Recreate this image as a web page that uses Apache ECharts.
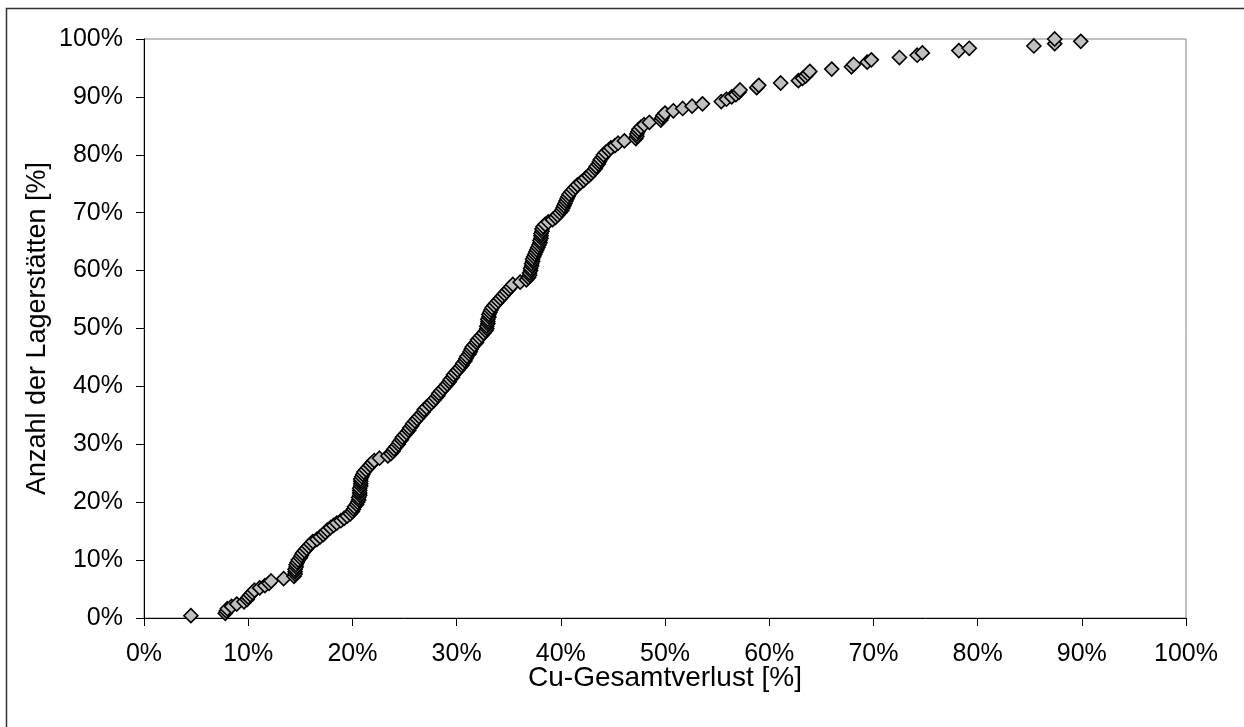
<!DOCTYPE html>
<html>
<head>
<meta charset="utf-8">
<script src="https://cdn.jsdelivr.net/npm/echarts@6/dist/echarts.min.js"></script>
<style>
html,body{margin:0;padding:0;background:#fff;}
#chart{width:1244px;height:727px;}
</style>
</head>
<body>
<div id="chart"></div>
<script>
// Cu-Gesamtverlust [%] per deposit (sorted)
var cuLoss = [
4.5,7.8,7.9,8.0,8.4,8.9,9.6,9.9,10.0,10.2,
10.4,10.6,11.1,11.6,12.0,12.2,13.4,14.4,14.5,14.5,
14.5,14.6,14.6,14.7,14.8,15.0,15.1,15.2,15.4,15.6,
15.8,16.0,16.2,16.6,16.9,17.2,17.4,17.6,17.9,18.2,
18.5,18.9,19.2,19.5,19.8,20.0,20.1,20.2,20.4,20.5,
20.6,20.6,20.7,20.7,20.7,20.7,20.8,20.8,20.8,20.8,
20.9,21.0,21.1,21.3,21.5,21.7,21.9,22.1,22.6,23.4,
23.7,23.9,24.0,24.2,24.4,24.5,24.7,24.8,25.0,25.2,
25.4,25.5,25.7,25.8,26.0,26.2,26.4,26.6,26.8,26.9,
27.1,27.4,27.6,27.8,28.0,28.2,28.3,28.5,28.7,28.9,
29.1,29.3,29.4,29.6,29.7,29.9,30.1,30.3,30.5,30.6,
30.8,30.9,31.0,31.2,31.3,31.4,31.5,31.7,31.9,32.0,
32.2,32.4,32.6,32.8,32.9,32.9,33.0,33.0,33.0,33.1,
33.1,33.2,33.3,33.4,33.6,33.8,34.0,34.2,34.4,34.6,
34.8,35.0,35.2,35.4,36.1,36.7,36.9,37.0,37.0,37.1,
37.1,37.2,37.2,37.3,37.3,37.4,37.5,37.6,37.7,37.8,
37.9,38.0,38.0,38.1,38.1,38.1,38.2,38.2,38.3,38.5,
38.8,39.2,39.5,39.7,39.9,40.1,40.2,40.3,40.4,40.5,
40.6,40.7,40.8,41.0,41.2,41.4,41.6,41.9,42.2,42.4,
42.7,42.9,43.1,43.3,43.4,43.6,43.7,43.8,44.0,44.1,
44.3,44.6,44.8,45.2,45.5,46.1,47.2,47.3,47.3,47.4,
47.5,47.7,48.0,48.5,49.6,49.7,49.8,50.0,50.8,51.7,
52.6,53.6,55.4,55.9,56.4,56.8,57.1,57.2,58.8,59.0,
61.1,62.8,63.2,63.5,63.7,63.9,66.0,67.9,68.1,69.4,
69.8,72.5,74.2,74.7,78.2,79.2,85.4,87.4,89.9,87.4
];
// Anzahl der Lagerstätten [%] (cumulative share)
var cumShare = [
0.4,0.8,1.2,1.6,2.0,2.4,2.8,3.2,3.6,4.0,
4.4,4.8,5.2,5.6,6.0,6.4,6.8,7.2,7.6,8.0,
8.4,8.8,9.2,9.6,10.0,10.4,10.8,11.2,11.6,12.0,
12.4,12.8,13.2,13.6,14.0,14.4,14.8,15.2,15.6,16.0,
16.4,16.8,17.2,17.6,18.0,18.4,18.8,19.2,19.6,20.0,
20.4,20.8,21.2,21.6,22.0,22.4,22.8,23.2,23.6,24.0,
24.4,24.8,25.2,25.6,26.0,26.4,26.8,27.2,27.6,28.0,
28.4,28.8,29.2,29.6,30.0,30.4,30.8,31.2,31.6,32.0,
32.4,32.8,33.2,33.6,34.0,34.4,34.8,35.2,35.6,36.0,
36.4,36.8,37.2,37.6,38.0,38.4,38.8,39.2,39.6,40.0,
40.4,40.8,41.2,41.6,42.0,42.4,42.8,43.2,43.6,44.0,
44.4,44.8,45.2,45.6,46.0,46.4,46.8,47.2,47.6,48.0,
48.4,48.8,49.2,49.6,50.0,50.4,50.8,51.2,51.6,52.0,
52.4,52.8,53.2,53.6,54.0,54.4,54.8,55.2,55.6,56.0,
56.4,56.8,57.2,57.6,58.0,58.4,58.8,59.2,59.6,60.0,
60.4,60.8,61.2,61.6,62.0,62.4,62.8,63.2,63.6,64.0,
64.4,64.8,65.2,65.6,66.0,66.4,66.8,67.2,67.6,68.0,
68.4,68.8,69.2,69.6,70.0,70.4,70.8,71.2,71.6,72.0,
72.4,72.8,73.2,73.6,74.0,74.4,74.8,75.2,75.6,76.0,
76.4,76.8,77.2,77.6,78.0,78.4,78.8,79.2,79.6,80.0,
80.4,80.8,81.2,81.6,82.0,82.4,82.8,83.2,83.6,84.0,
84.4,84.8,85.2,85.6,86.0,86.4,86.8,87.2,87.6,88.0,
88.4,88.8,89.2,89.6,90.0,90.4,90.8,91.2,91.6,92.0,
92.4,92.8,93.2,93.6,94.0,94.4,94.8,95.2,95.6,96.0,
96.4,96.8,97.2,97.6,98.0,98.4,98.8,99.2,99.6,100.0
];
var xTitle = 'Cu-Gesamtverlust [%]';
var yTitle = 'Anzahl der Lagerstätten [%]';

var points = cuLoss.map(function (x, i) { return [x, cumShare[i]]; });
var font = '"Liberation Sans", Arial, sans-serif';

var chart = echarts.init(document.getElementById('chart'), null, {renderer: 'canvas'});
chart.setOption({
  animation: false,
  backgroundColor: '#ffffff',
  graphic: [{
    type: 'rect',
    shape: {x: 6.5, y: 8.5, width: 1400, height: 900},
    style: {fill: 'none', stroke: '#333', lineWidth: 1.5},
    silent: true
  }],
  grid: {
    left: 144, top: 39, width: 1042, height: 579,
    show: true, borderColor: '#808080', borderWidth: 1, backgroundColor: 'transparent'
  },
  xAxis: {
    type: 'value', min: 0, max: 100, interval: 10,
    name: xTitle, nameLocation: 'middle', nameGap: 46, nameMoveOverlap: false,
    nameTextStyle: {fontFamily: font, fontSize: 28, color: '#000'},
    axisLine: {show: true, onZero: false, lineStyle: {color: '#000', width: 1}},
    axisTick: {show: true, inside: false, length: 8, lineStyle: {color: '#000'}},
    axisLabel: {formatter: '{value}%', fontFamily: font, fontSize: 25, color: '#000', margin: 24},
    splitLine: {show: false}
  },
  yAxis: {
    type: 'value', min: 0, max: 100, interval: 10,
    name: yTitle, nameLocation: 'middle', nameGap: 93, nameMoveOverlap: false,
    nameTextStyle: {fontFamily: font, fontSize: 27, color: '#000'},
    axisLine: {show: true, onZero: false, lineStyle: {color: '#000', width: 1}},
    axisTick: {show: true, inside: false, length: 8, lineStyle: {color: '#000'}},
    axisLabel: {formatter: '{value}%', fontFamily: font, fontSize: 25, color: '#000', margin: 21},
    splitLine: {show: false}
  },
  series: [{
    type: 'scatter',
    data: points,
    symbol: 'diamond',
    symbolSize: 14,
    itemStyle: {color: '#c0c0c0', borderColor: '#000', borderWidth: 1.6, opacity: 1}
  }]
});
</script>
</body>
</html>
